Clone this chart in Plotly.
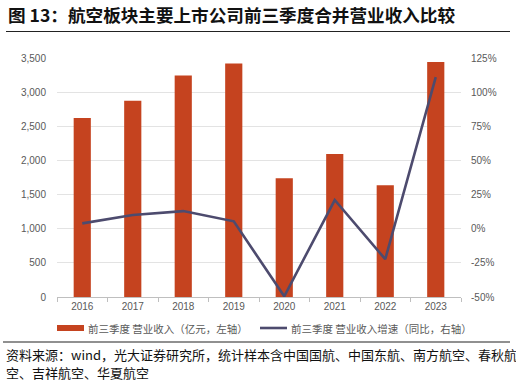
import plotly.graph_objects as go

years = ["2016", "2017", "2018", "2019", "2020", "2021", "2022", "2023"]
revenue = [2623, 2873, 3244, 3421, 1738, 2095, 1635, 3441]
growth = [0.039, 0.100, 0.129, 0.054, -0.495, 0.210, -0.223, 1.110]

left_ticks = [0, 500, 1000, 1500, 2000, 2500, 3000, 3500]
left_text = ["0", "500", "1,000", "1,500", "2,000", "2,500", "3,000", "3,500"]
right_ticks = [-0.5, -0.25, 0, 0.25, 0.5, 0.75, 1.0, 1.25]
right_text = ["-50%", "-25%", "0%", "25%", "50%", "75%", "100%", "125%"]

title = "图 13：航空板块主要上市公司前三季度合并营业收入比较"
legend1 = "前三季度 营业收入（亿元，左轴）"
legend2 = "前三季度 营业收入增速（同比，右轴）"
source1 = "资料来源：wind，光大证券研究所，统计样本含中国国航、中国东航、南方航空、春秋航"
source2 = "空、吉祥航空、华夏航空"

BAR = "#C5431F"
LINE = "#4D4B6E"
GRAY = "#595959"
FONT = "Noto Sans CJK SC"

W, H = 516, 382
L, R, T, B = 57, 55, 58, 85
pw, ph = W - L - R, H - T - B

def px(x):
    return (x - L) / pw

def py(y):
    return (H - B - y) / ph

fig = go.Figure()
fig.add_trace(go.Bar(x=years, y=revenue, marker=dict(color=BAR, line=dict(width=0)),
                     yaxis="y", name=legend1, showlegend=False))
fig.add_trace(go.Scatter(x=years, y=growth, mode="lines", line=dict(color=LINE, width=2.6),
                         yaxis="y2", name=legend2, showlegend=False))

shapes = [
    dict(type="line", xref="paper", yref="paper", x0=px(6), x1=px(510), y0=py(31.5), y1=py(31.5),
         line=dict(color="#222222", width=1.2)),
    dict(type="line", xref="paper", yref="paper", x0=px(3), x1=px(510), y0=py(342), y1=py(342),
         line=dict(color="#222222", width=1.2)),
    dict(type="rect", xref="paper", yref="paper", x0=px(57), x1=px(84), y0=py(325), y1=py(331),
         fillcolor=BAR, line=dict(width=0)),
    dict(type="line", xref="paper", yref="paper", x0=px(260), x1=px(287), y0=py(328), y1=py(328),
         line=dict(color=LINE, width=2.6)),
]

annotations = [
    dict(text="<b>" + title + "</b>", xref="paper", yref="paper", x=px(6), y=py(15), xanchor="left",
         yanchor="middle", showarrow=False, font=dict(family=FONT, size=17.6, color="#111111")),
    dict(text=legend1, xref="paper", yref="paper", x=px(86), y=py(328), xanchor="left", yanchor="middle",
         showarrow=False, font=dict(family=FONT, size=10.5, color=GRAY)),
    dict(text=legend2, xref="paper", yref="paper", x=px(289), y=py(328), xanchor="left", yanchor="middle",
         showarrow=False, font=dict(family=FONT, size=10.5, color=GRAY)),
    dict(text=source1, xref="paper", yref="paper", x=px(4), y=py(354), xanchor="left", yanchor="middle",
         showarrow=False, font=dict(family=FONT, size=13, color="#111111")),
    dict(text=source2, xref="paper", yref="paper", x=px(4), y=py(372), xanchor="left", yanchor="middle",
         showarrow=False, font=dict(family=FONT, size=13, color="#111111")),
]

fig.update_layout(
    width=W, height=H, margin=dict(l=L, r=R, t=T, b=B, pad=0),
    paper_bgcolor="white", plot_bgcolor="white",
    bargap=0.66, showlegend=False,
    font=dict(family=FONT, size=10, color=GRAY),
    xaxis=dict(type="category", showgrid=False, showline=True, linecolor="#BFBFBF", linewidth=1,
               ticks="outside", ticklen=4, tickcolor="#BFBFBF", tickson="boundaries",
               tickfont=dict(family="Liberation Sans, Arial", size=10, color=GRAY)),
    yaxis=dict(range=[0, 3500], tickvals=left_ticks, ticktext=left_text, showgrid=True,
               gridcolor="#E3E3E3", gridwidth=1, zeroline=False, showline=False, ticks="",
               ticklabelstandoff=10,
               tickfont=dict(family="Liberation Sans, Arial", size=10, color=GRAY)),
    yaxis2=dict(range=[-0.5, 1.25], tickvals=right_ticks, ticktext=right_text, overlaying="y",
                side="right", showgrid=False, zeroline=False, showline=False, ticks="",
                ticklabelstandoff=9,
                tickfont=dict(family="Liberation Sans, Arial", size=10, color=GRAY)),
    shapes=shapes, annotations=annotations,
)

fig.write_html("out.html", config={"displayModeBar": False},
               post_script="document.body.style.margin='0';document.body.style.overflow='hidden';")
